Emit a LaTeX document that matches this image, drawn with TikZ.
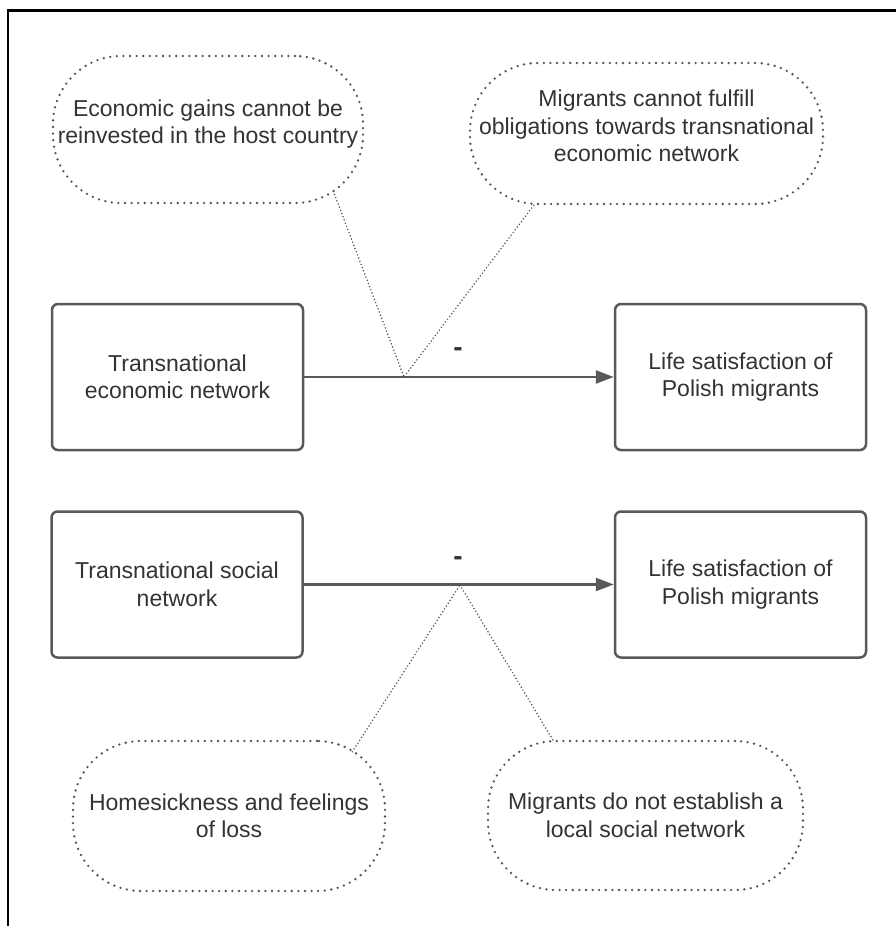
\documentclass[tikz,border=0pt]{standalone}
\usepackage{fontspec}
\setmainfont{Liberation Sans}
\usetikzlibrary{arrows.meta,calc}
\definecolor{txt}{HTML}{333333}
\definecolor{edgec}{HTML}{595959}
\definecolor{dotc}{HTML}{555555}
\begin{document}
\begin{tikzpicture}[x=1pt,y=-1pt,
 every node/.style={font=\fontsize{23}{27.5}\selectfont, text=txt, align=center},
 box/.style={draw=edgec, line width=2.5pt, rounded corners=6pt, minimum width=251pt, minimum height=146pt, inner sep=0pt},
 bubble/.style={draw=dotc, line width=2.6pt, line cap=round, dash pattern=on 0pt off 6.6pt, rounded corners=68pt, inner sep=0pt},
 link/.style={draw=dotc, line width=1.7pt, line cap=round, dash pattern=on 0pt off 3.4pt},
 effect/.style={draw=edgec, line width=2.5pt, -{Triangle[length=18pt,width=13pt]}},
 sign/.style={font=\fontsize{28}{30}\selectfont\bfseries, inner sep=0pt},
 frameline/.style={draw=black, line width=2.6pt}]
\useasboundingbox (0,0) rectangle (896,926);
\draw[frameline] (896,10.5) -- (8,10.5) -- (8,926);

% boxes
\node[box] (b1) at (177.5,377) {Transnational\\economic network};
\node[box] (b2) at (740.5,377) {Life satisfaction of\\Polish migrants};
\node[box] (b3) at (177,584.5) {Transnational social\\network};
\node[box] (b4) at (740.5,584.5) {Life satisfaction of\\Polish migrants};

% bubbles
\node[bubble, minimum width=310pt, minimum height=147pt] (tl) at (208,129.5) {Economic gains cannot be\\reinvested in the host country\\[-12pt]};
\node[bubble, minimum width=353pt, minimum height=141pt] (tr) at (646.5,133.5) {Migrants cannot fulfill\\obligations towards transnational\\economic network\\[-12pt]};
\node[bubble, minimum width=312pt, minimum height=150pt] (bl) at (229,816) {Homesickness and feelings\\of loss};
\node[bubble, minimum width=315pt, minimum height=149pt] (br) at (645.5,815.5) {Migrants do not establish a\\local social network};

% arrows
\draw[effect] (b1) -- (b2);
\draw[effect] (b3) -- (b4);

% signs
\node[sign] (m1) at (458,352) {-};
\node[sign] (m2) at (458,561) {-};

% mediator links
\coordinate (v1) at (404,377);
\coordinate (v2) at (460,585);
\draw[link] ([shift={(-31,-13)}]tl.south east) -- (v1);
\draw[link] ([shift={(65,0)}]tr.south west) -- (v1);
\draw[link] ([shift={(-34,12)}]bl.north east) -- (v2);
\draw[link] ([shift={(66,0)}]br.north west) -- (v2);
\end{tikzpicture}
\end{document}
